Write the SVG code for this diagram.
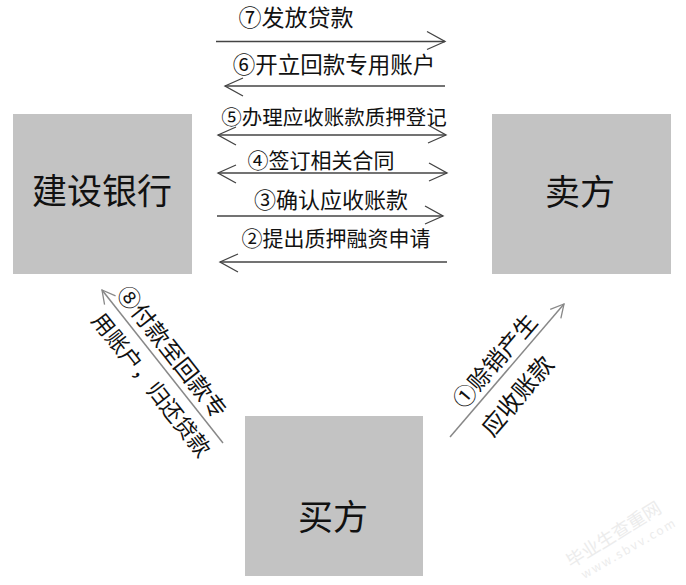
<svg xmlns="http://www.w3.org/2000/svg" width="686" height="585" viewBox="0 0 686 585">
<style>
.box{fill:#c3c3c3}
.name{font-family:"Noto Sans CJK SC","Noto Sans",sans-serif;font-size:35px;fill:#111;text-anchor:middle}
.lbl{font-family:"Noto Sans CJK SC","Noto Sans",sans-serif;font-size:22px;fill:#111;text-anchor:middle}
.h{stroke:#444;stroke-width:1.5;fill:none}
.d{stroke:#888;stroke-width:1.5;fill:none}
.wm{font-family:"Noto Sans CJK SC",sans-serif;fill:#ececec;text-anchor:middle}
</style>
<defs>
<marker id="ah" markerUnits="userSpaceOnUse" markerWidth="24" markerHeight="24" viewBox="-20 -12 24 24" refX="0" refY="0" orient="auto-start-reverse">
<path d="M-18,-10 L0,0 L-18,8" fill="none" stroke="#444" stroke-width="1.3"/>
</marker>
<marker id="ahd" markerUnits="userSpaceOnUse" markerWidth="24" markerHeight="24" viewBox="-20 -12 24 24" refX="0" refY="0" orient="auto">
<path d="M-13,-7 L0,0 L-13,7" fill="none" stroke="#888" stroke-width="1.3"/>
</marker>
</defs>
<rect width="686" height="585" fill="#fff"/>
<g id="bank"><rect class="box" x="13" y="114" width="179" height="160"/><text class="name" x="102" y="204">建设银行</text></g>
<g id="seller"><rect class="box" x="492" y="114" width="179" height="160"/><text class="name" x="580" y="205">卖方</text></g>
<g id="buyer"><rect class="box" x="245" y="416" width="178" height="160"/><text class="name" x="333" y="530">买方</text></g>
<g id="connectors">
<line class="h" x1="216" y1="41.5" x2="445" y2="41.5" marker-end="url(#ah)"/>
<line class="h" x1="445" y1="86" x2="225" y2="86" marker-end="url(#ah)"/>
<line class="h" x1="218" y1="135" x2="446" y2="135" marker-start="url(#ah)" marker-end="url(#ah)"/>
<line class="h" x1="218" y1="173" x2="447" y2="173" marker-start="url(#ah)" marker-end="url(#ah)"/>
<line class="h" x1="217" y1="216" x2="443" y2="216" marker-end="url(#ah)"/>
<line class="h" x1="447" y1="262" x2="220" y2="262" marker-end="url(#ah)"/>
<line class="d" x1="223" y1="443" x2="102" y2="290" marker-end="url(#ahd)"/>
<line class="d" x1="450" y1="437" x2="564" y2="304" marker-end="url(#ahd)"/>
</g>
<g id="labels">
<text class="lbl" x="296" y="26" style="font-size:23px">⑦发放贷款</text>
<text class="lbl" x="334" y="73" style="font-size:22.5px">⑥开立回款专用账户</text>
<text class="lbl" x="334" y="125" style="font-size:20.5px">⑤办理应收账款质押登记</text>
<text class="lbl" x="321" y="168" style="font-size:21px">④签订相关合同</text>
<text class="lbl" x="331" y="208">③确认应收账款</text>
<text class="lbl" x="336" y="246" style="font-size:21px">②提出质押融资申请</text>
<g transform="translate(102,290) rotate(51.7)">
<text class="lbl" x="92" y="-8" style="font-size:23px">⑧付款至回款专</text>
<text class="lbl" x="105" y="28">用账户，归还贷款</text>
</g>
<g transform="translate(450,437) rotate(-49.4)">
<text class="lbl" x="87" y="-7" style="font-size:23px">①赊销产生</text>
<text class="lbl" x="75" y="33" style="font-size:24px">应收账款</text>
</g>
</g>
<g id="watermark">
<text class="wm" transform="translate(617,540) rotate(-32)" style="font-size:18px">毕业生查重网</text>
<text class="wm" transform="translate(631,552) rotate(-30)" style="font-size:12px;letter-spacing:2px">www.sbvv.com</text>
</g>
</svg>
